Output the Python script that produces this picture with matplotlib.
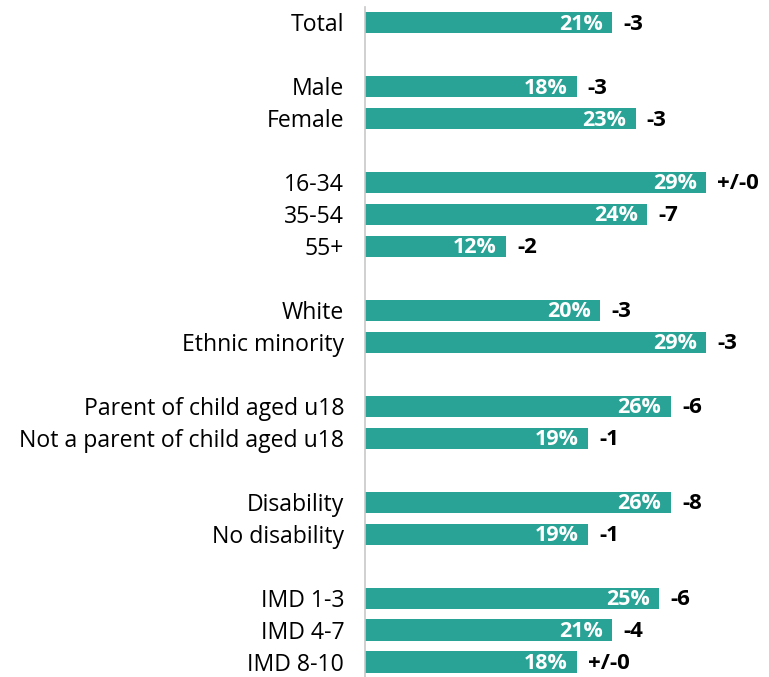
import matplotlib.pyplot as plt

# donnees
labels = ["Total", "Male", "Female", "16-34", "35-54", "55+", "White", "Ethnic minority",
          "Parent of child aged u18", "Not a parent of child aged u18",
          "Disability", "No disability", "IMD 1-3", "IMD 4-7", "IMD 8-10"]
values = [21, 18, 23, 29, 24, 12, 20, 29, 26, 19, 26, 19, 25, 21, 18]
changes = ["-3", "-3", "-3", "+/-0", "-7", "-2", "-3", "-3", "-6", "-1", "-8", "-1", "-6", "-4", "+/-0"]
rows = [0, 2, 3, 5, 6, 7, 9, 10, 12, 13, 15, 16, 18, 19, 20]

teal = "#28a395"
plt.rcParams['font.family'] = ['Open Sans', 'DejaVu Sans']

fig = plt.figure(figsize=(7.69, 6.77), dpi=100)
# axe vertical a x=365 px, lignes espacees de 32 px
ax = fig.add_axes([365 / 769, -1 / 677, 0.52, (678 - 6.5) / 677])

ax.barh(rows, values, height=0.66, color=teal)

for r, v, c in zip(rows, values, changes):
    ax.text(v - 0.8, r + 0.05, str(v) + "%", ha="right", va="center", color="white",
            fontsize=15.5, fontweight="bold")
    ax.text(v + 0.95, r + 0.05, c, ha="left", va="center", color="black",
            fontsize=16, fontweight="bold")

ax.set_yticks(rows)
ax.set_yticklabels(labels, fontsize=16.6)
ax.tick_params(axis="y", length=0, pad=15)
ax.set_xticks([])
ax.set_ylim(20.5, -0.5)
ax.set_xlim(0, 34)

for s in ["top", "right", "bottom"]:
    ax.spines[s].set_visible(False)
ax.spines["left"].set_color("#c8c8c8")
ax.spines["left"].set_linewidth(1.2)

fig.savefig("out.png", dpi=100)
